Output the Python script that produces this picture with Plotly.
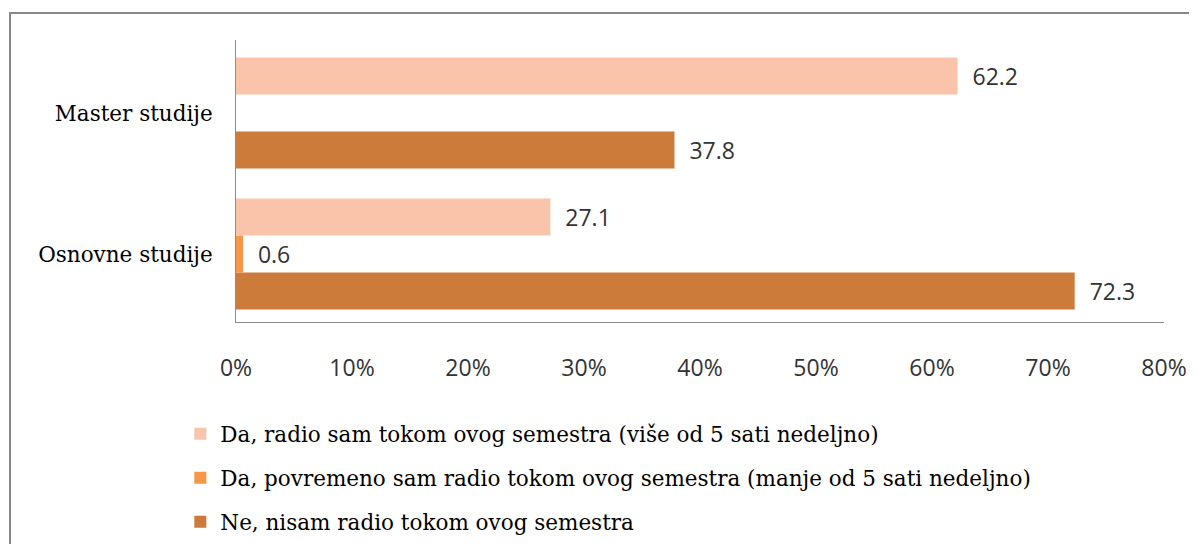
import plotly.graph_objects as go

categories = ["Osnovne studije", "Master studije"]
series_names = [
    "Da, radio sam tokom ovog semestra (više od 5 sati nedeljno)",
    "Da, povremeno sam radio tokom ovog semestra (manje od 5 sati nedeljno)",
    "Ne, nisam radio tokom ovog semestra",
]
vals_da_vise = [27.1, 62.2]
vals_da_povremeno = [0.6, None]
vals_ne = [72.3, 37.8]
tick_vals = [0, 10, 20, 30, 40, 50, 60, 70, 80]
tick_text = ["0%", "10%", "20%", "30%", "40%", "50%", "60%", "70%", "80%"]

colors = ["#F9C4AA", "#F79646", "#CC7B3A"]
series_vals = [vals_da_vise, vals_da_povremeno, vals_ne]

SANS = "'Open Sans', 'Noto Sans', sans-serif"
SERIF = "'DejaVu Serif', serif"

fig = go.Figure()
# add in reverse order so first series sits on top of each group
for i in [2, 1, 0]:
    vals = series_vals[i]
    fig.add_trace(go.Bar(
        y=categories,
        x=vals,
        orientation="h",
        name=series_names[i],
        marker=dict(color=colors[i], line=dict(width=0)),
        text=[("\u00a0\u00a0" + f"{v:.1f}") if v is not None else "" for v in vals],
        textposition="outside",
        textfont=dict(family=SANS, size=23, color="#333333"),
        cliponaxis=False,
        legendgroup=f"g{i}",
        legendrank=i + 1,
    ))

# the page body adds an 8px margin, so the figure is 8px smaller than the window
fig.update_layout(
    barmode="group",
    bargap=0.213,
    bargroupgap=0,
    width=1189,
    height=536,
    margin=dict(l=228, r=33, t=32, b=222, autoexpand=False),
    paper_bgcolor="white",
    plot_bgcolor="white",
    showlegend=True,
    legend=dict(
        traceorder="grouped",
        orientation="v",
        x=-0.060,
        xanchor="left",
        y=-0.324,
        yanchor="top",
        font=dict(family=SERIF, size=21.5, color="#000000"),
        tracegroupgap=13,
        bgcolor="rgba(0,0,0,0)",
    ),
    xaxis=dict(
        range=[0, 80],
        tickvals=tick_vals,
        ticktext=tick_text,
        showgrid=False,
        zeroline=False,
        showline=True,
        linecolor="#8c8c8c",
        linewidth=1,
        ticks="",
        ticklabelstandoff=25,
        tickfont=dict(family=SANS, size=23, color="#333333"),
        fixedrange=True,
        automargin=False,
    ),
    yaxis=dict(
        range=[-0.482, 1.518],
        showgrid=False,
        zeroline=False,
        showline=True,
        linecolor="#8c8c8c",
        linewidth=1,
        ticks="",
        ticklabelstandoff=18,
        tickfont=dict(family=SERIF, size=21.5, color="#000000"),
        fixedrange=True,
        automargin=False,
    ),
    shapes=[dict(
        type="rect",
        xref="paper", yref="paper",
        x0=(2 - 228) / 928, x1=(1205 - 228) / 928,
        y0=(314 - 560) / 282, y1=(314 - 5) / 282,
        line=dict(color="#888888", width=2),
        fillcolor="rgba(0,0,0,0)",
        layer="below",
    )],
)

fig.write_html("out.html")
